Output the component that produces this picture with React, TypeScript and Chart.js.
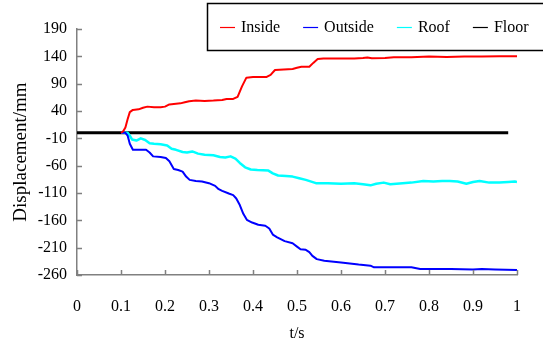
import React, { useEffect, useRef } from "react";
import { Chart, registerables } from "chart.js";

Chart.register(...registerables);

const seriesNames = ["Inside", "Outside", "Roof", "Floor"];
const seriesColors = ["#FF0000", "#0000FF", "#00FFFF", "#000000"];

const xTicks = [0, 0.1, 0.2, 0.3, 0.4, 0.5, 0.6, 0.7, 0.8, 0.9, 1];
const yTicks = [190, 140, 90, 40, -10, -60, -110, -160, -210, -260];

const insideT = [0.1, 0.105, 0.11, 0.115, 0.12, 0.127, 0.14, 0.15, 0.16, 0.175, 0.19, 0.2, 0.21, 0.22, 0.235, 0.245, 0.255, 0.27, 0.29, 0.31, 0.33, 0.34, 0.355, 0.365, 0.375, 0.385, 0.4, 0.43, 0.44, 0.45, 0.47, 0.49, 0.5, 0.51, 0.528, 0.537, 0.547, 0.56, 0.6, 0.63, 0.65, 0.66, 0.67, 0.7, 0.72, 0.76, 0.8, 0.84, 0.88, 0.92, 0.96, 1.0];
const insideV = [0, 3, 10, 25, 38, 42, 43, 46, 48, 47, 47, 48, 52, 53, 54, 56, 58, 59, 58.5, 59, 60, 62, 62, 66, 85, 101, 102, 102, 106, 115, 116, 117, 119, 121, 121, 128, 135, 136, 136, 136, 137, 138, 136.5, 137, 138.5, 138.5, 139.5, 139, 139.5, 139.5, 140, 140];

const outsideT = [0.1, 0.11, 0.115, 0.12, 0.127, 0.157, 0.165, 0.173, 0.19, 0.202, 0.21, 0.22, 0.23, 0.24, 0.248, 0.256, 0.27, 0.284, 0.3, 0.314, 0.322, 0.33, 0.345, 0.355, 0.362, 0.37, 0.378, 0.386, 0.398, 0.412, 0.428, 0.437, 0.445, 0.455, 0.472, 0.49, 0.5, 0.508, 0.52, 0.528, 0.535, 0.545, 0.562, 0.6, 0.62, 0.64, 0.667, 0.675, 0.7, 0.76, 0.78, 0.8, 0.85, 0.9, 0.92, 0.95, 1.0];
const outsideV = [0, 0, -5, -20, -31, -31, -36, -43, -44, -46, -52, -66, -68, -71, -80, -86, -88, -89, -92, -97, -103, -106, -111, -114, -120, -132, -148, -159, -164, -168, -170, -175, -186, -191, -198, -202, -208, -213, -214, -218, -225, -231, -234, -237, -239, -241, -243, -246, -246, -246, -249, -249, -249, -250, -249, -250, -251];

const roofT = [0.1, 0.115, 0.12, 0.125, 0.135, 0.145, 0.155, 0.165, 0.175, 0.19, 0.205, 0.215, 0.225, 0.24, 0.25, 0.262, 0.275, 0.29, 0.31, 0.325, 0.337, 0.349, 0.36, 0.37, 0.382, 0.395, 0.41, 0.435, 0.445, 0.457, 0.475, 0.49, 0.505, 0.52, 0.543, 0.57, 0.6, 0.63, 0.65, 0.667, 0.68, 0.697, 0.712, 0.74, 0.76, 0.787, 0.81, 0.83, 0.847, 0.865, 0.885, 0.9, 0.915, 0.937, 0.96, 0.98, 0.995, 1.0];
const roofV = [0, 0, -5, -12, -14, -10, -13, -19, -20, -21, -23, -29, -31, -35, -36, -34, -38, -40, -41, -44, -45, -43, -47, -55, -63, -67, -68, -69, -74, -78, -79, -80, -83, -86, -92, -92, -93, -92, -94, -96, -93, -91, -94, -92, -91, -88, -89, -88, -88, -89, -93, -90, -88, -91, -91, -90, -89, -90];

const floorT = [0, 0.98];
const floorV = [0, 0];

const seriesT = [insideT, outsideT, roofT, floorT];
const seriesV = [insideV, outsideV, roofV, floorV];
const seriesWidths = [2, 2, 2.5, 3];

const FONT = "'Liberation Serif', 'Times New Roman', Times, serif";
const AXIS_GRAY = "#808080";

const insideTicksPlugin = {
  id: "insideTicks",
  afterDatasetsDraw(chart: any) {
    const ctx = chart.ctx;
    const xs = chart.scales.x;
    const ys = chart.scales.y;
    ctx.save();
    ctx.strokeStyle = AXIS_GRAY;
    ctx.lineWidth = 1.5;
    ctx.beginPath();
    for (const v of xTicks) {
      const px = Math.round(xs.getPixelForValue(v)) + 0.5;
      ctx.moveTo(px, ys.bottom);
      ctx.lineTo(px, ys.bottom - 5);
    }
    for (const v of yTicks) {
      const py = Math.round(ys.getPixelForValue(v)) + 0.5;
      ctx.moveTo(xs.left, py);
      ctx.lineTo(xs.left + 5, py);
    }
    ctx.stroke();
    ctx.restore();
  },
};

const legendBoxPlugin = {
  id: "legendBox",
  afterDraw(chart: any) {
    const ctx = chart.ctx;
    ctx.save();
    ctx.fillStyle = "#FFFFFF";
    ctx.fillRect(207.5, 3.5, 345, 47);
    ctx.strokeStyle = "#000000";
    ctx.lineWidth = 1.5;
    ctx.strokeRect(207.5, 3.5, 345, 47);
    ctx.font = "16px " + FONT;
    ctx.textBaseline = "middle";
    ctx.textAlign = "left";
    let x = 220;
    const y = 27.5;
    chart.data.datasets.forEach((ds: any, i: number) => {
      ctx.strokeStyle = seriesColors[i];
      ctx.lineWidth = 1.2;
      ctx.beginPath();
      ctx.moveTo(x, y);
      ctx.lineTo(x + 15, y);
      ctx.stroke();
      ctx.fillStyle = "#000000";
      ctx.fillText(ds.label, x + 21, y);
      x += 21 + ctx.measureText(ds.label).width + 23;
    });
    ctx.restore();
  },
};

export default function App() {
  const canvasRef = useRef<HTMLCanvasElement | null>(null);

  useEffect(() => {
    let chart: any = null;
    let cancelled = false;
    const build = () => {
      if (cancelled || !canvasRef.current) return;
      Chart.defaults.font.family = FONT;
      chart = new Chart(canvasRef.current, {
        type: "line",
        data: {
          datasets: seriesNames.map((name, i) => ({
            label: name,
            data: seriesT[i].map((t, j) => ({ x: t, y: seriesV[i][j] })),
            borderColor: seriesColors[i],
            backgroundColor: seriesColors[i],
            borderWidth: seriesWidths[i],
            pointRadius: 0,
            tension: 0,
            fill: false,
            borderJoinStyle: "round" as const,
          })),
        },
        options: {
          responsive: false,
          animation: false,
          layout: { padding: { top: 29, right: 22, left: 0, bottom: 0 } },
          plugins: {
            legend: { display: false },
            tooltip: { enabled: false },
          },
          scales: {
            x: {
              type: "linear",
              min: 0,
              max: 1,
              afterBuildTicks: (s: any) => {
                s.ticks = xTicks.map((v) => ({ value: v }));
              },
              afterFit: (s: any) => {
                s.height = 68;
              },
              grid: { display: false, drawTicks: false },
              border: { display: true, color: AXIS_GRAY, width: 1.5 },
              ticks: {
                autoSkip: false,
                maxRotation: 0,
                padding: 22,
                color: "#000",
                font: { size: 16, family: FONT },
                callback: (v: any) => String(Number(Number(v).toFixed(1))),
              },
              title: {
                display: true,
                text: "t/s",
                color: "#000",
                font: { size: 16, family: FONT },
                padding: { top: 0, bottom: 0 },
              },
            },
            y: {
              type: "linear",
              min: -260,
              max: 190,
              afterBuildTicks: (s: any) => {
                s.ticks = yTicks.map((v) => ({ value: v }));
              },
              afterFit: (s: any) => {
                s.width = 77;
              },
              grid: { display: false, drawTicks: false },
              border: { display: true, color: AXIS_GRAY, width: 1.5 },
              ticks: {
                autoSkip: false,
                padding: 10,
                color: "#000",
                font: { size: 16, family: FONT },
                callback: (v: any) => String(v),
              },
              title: {
                display: true,
                text: "Displacement/mm",
                color: "#000",
                font: { size: 19, family: FONT },
                padding: { top: 10, bottom: 0 },
              },
            },
          },
        },
        plugins: [insideTicksPlugin, legendBoxPlugin],
      });
    };
    const fonts: any = (document as any).fonts;
    if (fonts && fonts.load) {
      Promise.all([
        fonts.load("16px 'Liberation Serif'"),
        fonts.load("19px 'Liberation Serif'"),
      ])
        .catch(() => null)
        .then(() => build());
    } else {
      build();
    }
    return () => {
      cancelled = true;
      if (chart) chart.destroy();
    };
  }, []);

  return (
    <div style={{ position: "absolute", left: 0, top: 0, width: 543, height: 343, background: "#fff" }}>
      <span style={{ fontFamily: FONT, position: "absolute", left: -9999, top: 0 }}>Displacement</span>
      <canvas ref={canvasRef} width={543} height={343} style={{ display: "block" }} />
    </div>
  );
}
